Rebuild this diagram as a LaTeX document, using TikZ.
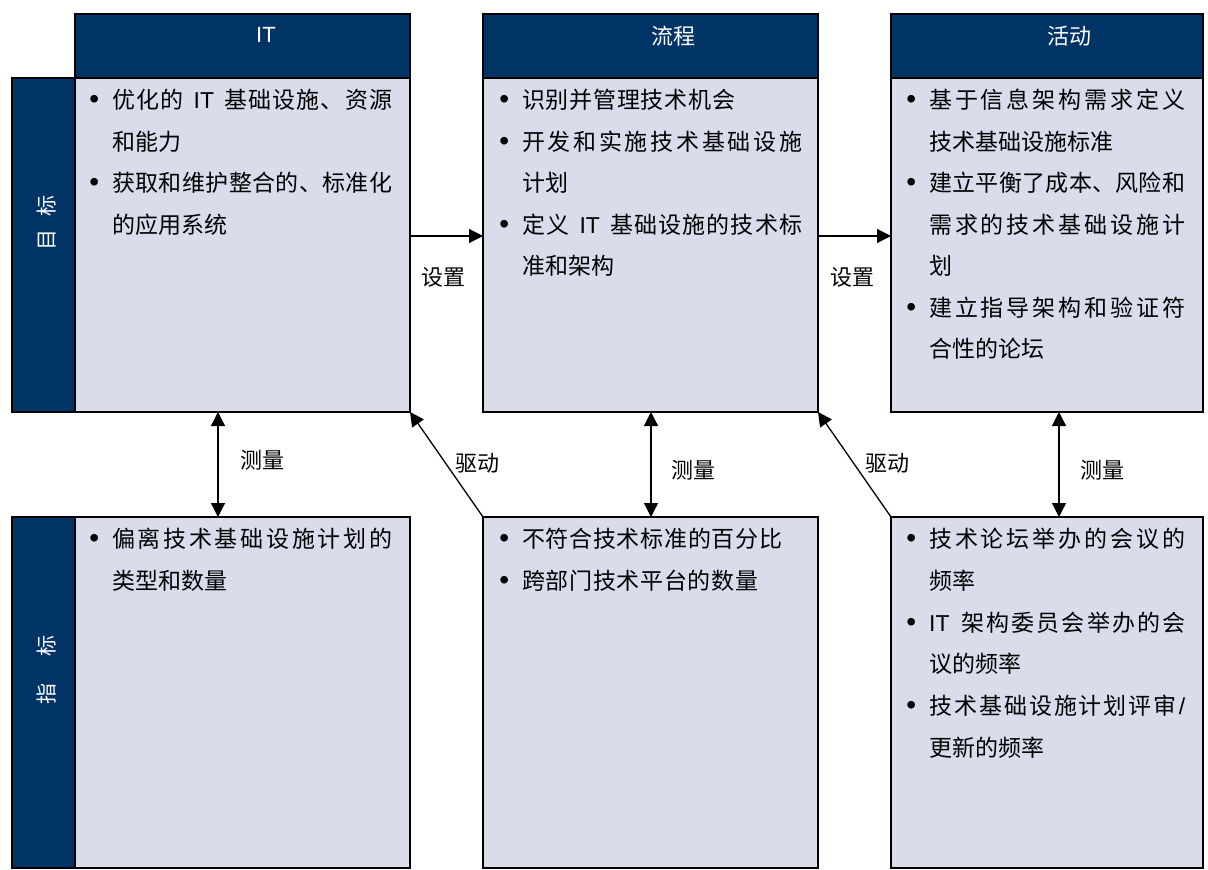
\documentclass[tikz,border=0pt]{standalone}
\usepackage{fontspec}
\setmainfont{Noto Sans CJK SC}
\newfontfamily\lat{Liberation Sans}
\usetikzlibrary{arrows.meta}
\definecolor{navy}{RGB}{0,51,102}
\definecolor{pane}{RGB}{217,220,235}
\makeatletter
\def\spr@ad#1{\ifx\relax#1\else#1\hfil\expandafter\spr@ad\fi}
\newcommand\jus[2]{\makebox[#1][s]{\spr@ad#2\relax\unskip}}
\makeatother
\newcommand\IT{{\lat IT}}
\newcommand\bu{\llap{{\lat\fontsize{28pt}{28pt}\selectfont\textbullet}\hspace{13pt}}}
\newcommand\tl[4]{\node[txt] (#1) at (#2,#3) {#4};}
\tikzset{
  box/.style={draw=black, line width=1.6pt, inner sep=0pt, outer sep=0pt, anchor=north west},
  txt/.style={anchor=base west, inner sep=0pt, text=black, font=\fontsize{23pt}{28pt}\selectfont},
  lbl/.style={inner sep=0pt, text=black, font=\fontsize{22pt}{26pt}\selectfont},
  hdt/.style={inner sep=0pt, text=white, font=\fontsize{22pt}{26pt}\selectfont},
  side/.style={inner sep=0pt, text=white, rotate=90, font=\fontsize{21pt}{24pt}\selectfont},
  arr/.style={draw=black, line width=1.3pt, -{Triangle[length=14pt,width=14pt]}},
  darr/.style={draw=black, line width=1.3pt, {Triangle[length=14pt,width=14pt]}-{Triangle[length=14pt,width=14pt]}}
}
\begin{document}
\begin{tikzpicture}[x=1pt,y=-1pt]
\useasboundingbox (0,0) rectangle (1208,870);
% column 1
\node[box, fill=navy, minimum width=335pt, minimum height=64pt] (h1) at (75,14) {};
\node[box, fill=pane, minimum width=335pt, minimum height=334pt] (t1) at (75,78) {};
\node[box, fill=navy, minimum width=63pt, minimum height=334pt] (s1) at (12,78) {};
\node[box, fill=pane, minimum width=335pt, minimum height=351pt] (b1) at (75,517) {};
\node[box, fill=navy, minimum width=63pt, minimum height=351pt] (s2) at (12,517) {};
% column 2
\node[box, fill=navy, minimum width=335pt, minimum height=64pt] (h2) at (483,14) {};
\node[box, fill=pane, minimum width=335pt, minimum height=334pt] (t2) at (483,78) {};
\node[box, fill=pane, minimum width=335pt, minimum height=351pt] (b2) at (483,517) {};
% column 3
\node[box, fill=navy, minimum width=312pt, minimum height=64pt] (h3) at (891,14) {};
\node[box, fill=pane, minimum width=312pt, minimum height=334pt] (t3) at (891,78) {};
\node[box, fill=pane, minimum width=312pt, minimum height=351pt] (b3) at (891,517) {};
% headers
\node[hdt] (ht1) at (266,35) {\IT};
\node[hdt] (ht2) at (673,36) {流程};
\node[hdt] (ht3) at (1069,36) {活动};
% side labels
\node[side] (st1) at (47,223) {目\hspace{13pt}标};
\node[side] (st2) at (47,670) {指\hspace{27pt}标};
% column 1 top
\tl{a1}{112}{108.7}{\bu\jus{280pt}{优化的{\hspace{9pt}\IT\hspace{9pt}}基础设施、资源}}
\tl{a2}{112}{150.2}{和能力}
\tl{a3}{112}{191.7}{\bu\jus{280pt}{获取和维护整合的、标准化}}
\tl{a4}{112}{233.2}{的应用系统}
% column 2 top
\tl{c1}{522}{108.7}{\bu\jus{213pt}{识别并管理技术机会}}
\tl{c2}{522}{150.2}{\bu\jus{280pt}{开发和实施技术基础设施}}
\tl{c3}{522}{191.7}{计划}
\tl{c4}{522}{233.2}{\bu\jus{280pt}{定义{\hspace{9pt}\IT\hspace{9pt}}基础设施的技术标}}
\tl{c5}{522}{274.7}{准和架构}
% column 3 top
\tl{e1}{929}{108.7}{\bu\jus{256pt}{基于信息架构需求定义}}
\tl{e2}{929}{150.2}{技术基础设施标准}
\tl{e3}{929}{191.7}{\bu\jus{256pt}{建立平衡了成本、风险和}}
\tl{e4}{929}{233.2}{\jus{256pt}{需求的技术基础设施计}}
\tl{e5}{929}{274.7}{划}
\tl{e6}{929}{316.2}{\bu\jus{256pt}{建立指导架构和验证符}}
\tl{e7}{929}{357.7}{合性的论坛}
% column 1 bottom
\tl{f1}{112}{547.7}{\bu\jus{280pt}{偏离技术基础设施计划的}}
\tl{f2}{112}{589.4}{类型和数量}
% column 2 bottom
\tl{g1}{522}{547.7}{\bu\jus{260pt}{不符合技术标准的百分比}}
\tl{g2}{522}{589.4}{\bu\jus{236pt}{跨部门技术平台的数量}}
% column 3 bottom
\tl{k1}{929}{547.7}{\bu\jus{256pt}{技术论坛举办的会议的}}
\tl{k2}{929}{589.4}{频率}
\tl{k3}{929}{631.1}{\bu\jus{256pt}{{\IT\hspace{10pt}}架构委员会举办的会}}
\tl{k4}{929}{672.8}{议的频率}
\tl{k5}{929}{714.5}{\bu\jus{256pt}{技术基础设施计划评审{{\lat /}}}}
\tl{k6}{929}{756.2}{更新的频率}
% connectors
\coordinate (ya) at (0,236);
\coordinate (mx1) at (218,0);
\coordinate (mx2) at (651,0);
\coordinate (mx3) at (1059,0);
\draw[arr] (t1.east |- ya) -- (t2.west |- ya);
\draw[arr] (t2.east |- ya) -- (t3.west |- ya);
\draw[darr] (t1.south -| mx1) -- (b1.north -| mx1);
\draw[darr] (t2.south -| mx2) -- (b2.north -| mx2);
\draw[darr] (t3.south -| mx3) -- (b3.north -| mx3);
\draw[arr] (b2.north west) -- (t1.south east);
\draw[arr] (b3.north west) -- (t2.south east);
% connector labels
\node[lbl] (l1) at (443,277) {设置};
\node[lbl] (l2) at (852,277) {设置};
\node[lbl] (m1) at (262,460) {测量};
\node[lbl] (m2) at (693,470) {测量};
\node[lbl] (m3) at (1102,470) {测量};
\node[lbl] (d1) at (477,463) {驱动};
\node[lbl] (d2) at (887,463) {驱动};
\end{tikzpicture}
\end{document}
